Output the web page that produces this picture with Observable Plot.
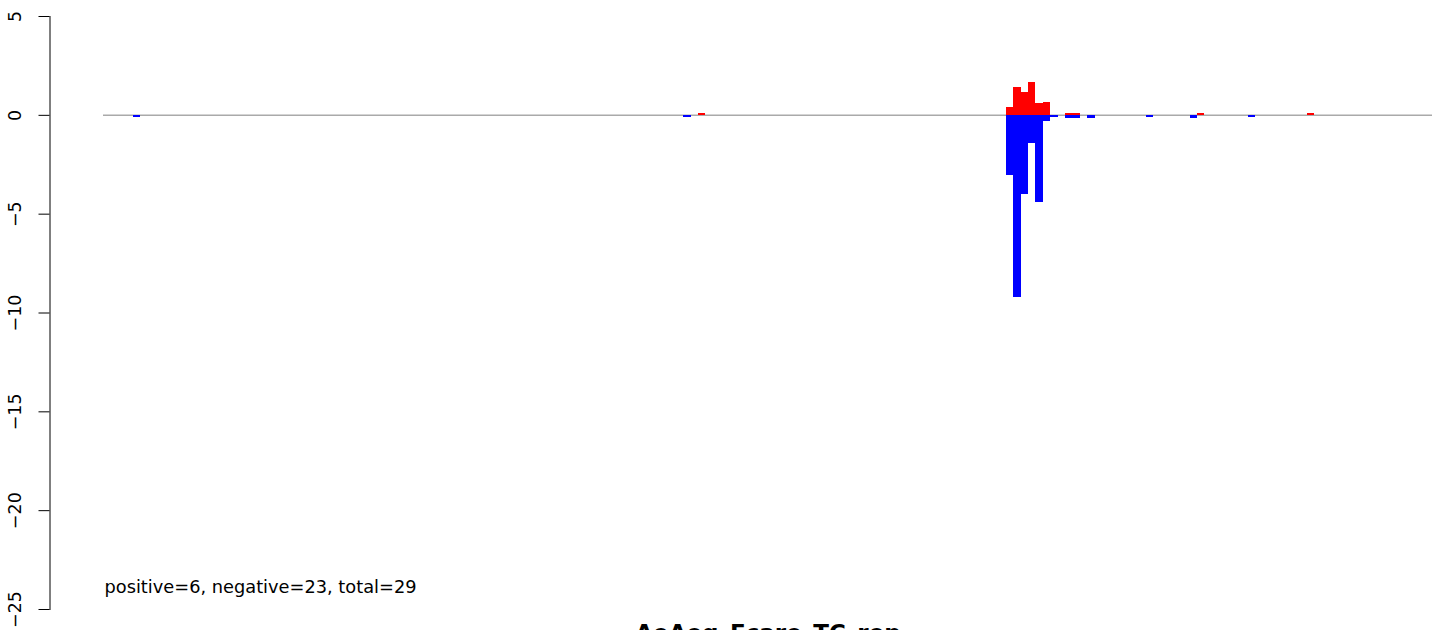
<!DOCTYPE html>
<html><head><meta charset="utf-8">
<script src="https://cdn.jsdelivr.net/npm/d3@7"></script>
<script src="https://cdn.jsdelivr.net/npm/@observablehq/plot@0.6"></script>
<style>html,body{margin:0;padding:0;overflow:hidden;background:#fff}</style>
</head><body><div id="chart"></div>
<script>
const title = "AeAeg_Fcare_TC_rep";
const note = "positive=6, negative=23, total=29";
const yTicks = [-25, -20, -15, -10, -5, 0, 5];
const nBins = 179.6;
// bin start positions and values
const negPos = [4.05, 78.4, 122, 123, 124, 125, 126, 127, 128, 130, 131, 133, 140.9, 146.9, 154.7];
const negVal = [-0.1, -0.1, -3.03, -9.2, -4.0, -1.45, -4.4, -0.3, -0.1, -0.15, -0.15, -0.15, -0.1, -0.15, -0.1];
const posPos = [80.4, 122, 123, 124, 125, 126, 127, 130, 131, 147.8, 162.7];
const posVal = [0.1, 0.42, 1.4, 1.15, 1.65, 0.59, 0.66, 0.1, 0.1, 0.1, 0.1];

const neg = negPos.map((p, i) => ({x1: p, x2: p + 1, v: negVal[i]}));
const pos = posPos.map((p, i) => ({x1: p, x2: p + 1, v: posVal[i]}));
const fmt = d => d < 0 ? "\u2212" + Math.abs(d) : String(d);

const plot = Plot.plot({
  width: 1444, height: 630,
  marginLeft: 49.5, marginRight: 12, marginTop: 16, marginBottom: 21,
  x: {domain: [0, nBins], range: [103, 1432], axis: null},
  y: {domain: [-25, 5], range: [609, 16], axis: null},
  style: {fontFamily: "'DejaVu Sans', sans-serif", fontSize: "17.8px", background: "#fff", color: "#000"},
  marks: [
    Plot.frame({anchor: "left", stroke: "#000", strokeWidth: 1}),
    Plot.axisY(yTicks, {anchor: "left", tickSize: 11, tickFormat: () => "", label: null, stroke: "#000", strokeWidth: 1}),
    Plot.text(yTicks, {y: d => d, text: fmt, frameAnchor: "left", dx: -29, rotate: -90, textAnchor: "middle", lineAnchor: "bottom", fill: "#000", fontSize: 17.5}),
    Plot.ruleY([0], {x1: 0, x2: nBins, stroke: "#aaaaaa", strokeWidth: 1.5}),
    Plot.rectY(neg, {x1: "x1", x2: "x2", y1: 0, y2: "v", fill: "#0000ff", shapeRendering: "crispEdges"}),
    Plot.rectY(pos, {x1: "x1", x2: "x2", y1: 0, y2: "v", fill: "#ff0000", shapeRendering: "crispEdges"}),
    Plot.text([note], {x: 0, y: -24.19, text: d => d, textAnchor: "start", lineAnchor: "bottom", dx: 1, fill: "#000"}),
    Plot.text([title], {x: nBins / 2, y: -26.6, text: d => d, textAnchor: "middle", lineAnchor: "bottom", fontWeight: "bold", fontSize: 23, fill: "#000"})
  ]
});
plot.style.overflow = "visible";
document.getElementById("chart").appendChild(plot);
</script>
</body></html>
